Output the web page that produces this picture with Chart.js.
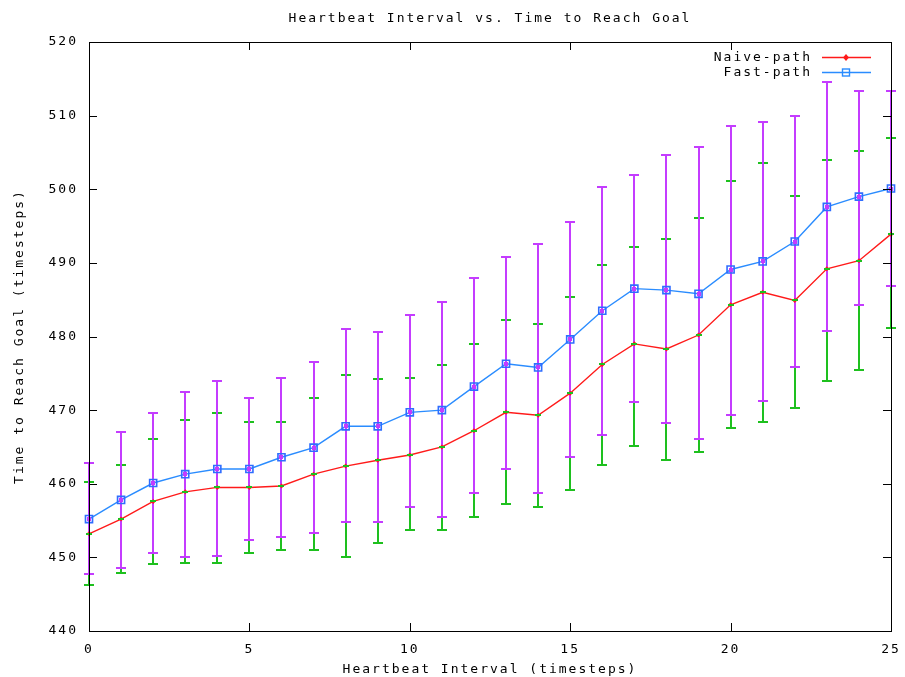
<!DOCTYPE html>
<html>
<head>
<meta charset="utf-8">
<script src="https://cdn.jsdelivr.net/npm/chart.js@4/dist/chart.umd.min.js"></script>
<style>
html, body { margin: 0; padding: 0; background: #fff; }
#wrap { width: 905px; height: 677px; }
</style>
</head>
<body>
<div id="wrap"><canvas id="chart" width="905" height="677"></canvas></div>
<script>
// heartbeat interval (x) and time to reach goal (y)
const xValues = [0,1,2,3,4,5,6,7,8,9,10,11,12,13,14,15,16,17,18,19,20,21,22,23,24,25];

const naiveMean = [453.2,455.2,457.6,458.9,459.5,459.5,459.7,461.3,462.4,463.2,463.9,465.0,467.2,469.7,469.3,472.3,476.2,479.0,478.3,480.2,484.3,486.0,484.9,489.2,490.3,493.9];
const naiveLow  = [446.2,447.9,449.1,449.3,449.3,450.6,451.0,451.0,450.0,452.0,453.7,453.7,455.5,457.2,456.8,459.2,462.6,465.1,463.2,464.3,467.6,468.4,470.3,474.0,475.4,481.2];
const naiveHigh = [460.2,462.6,466.1,468.6,469.6,468.4,468.4,471.7,474.8,474.2,474.4,476.1,479.0,482.3,481.7,485.4,489.7,492.1,493.2,496.1,501.1,503.6,499.1,504.0,505.2,506.9];

const fastMean = [455.2,457.8,460.1,461.3,462.0,462.0,463.6,464.9,467.8,467.8,469.7,470.0,473.2,476.3,475.8,479.6,483.5,486.5,486.3,485.8,489.1,490.2,492.9,497.6,499.0,500.1];
const fastLow  = [447.7,448.5,450.6,450.0,450.2,452.4,452.8,453.3,454.8,454.8,456.8,455.5,458.8,462.0,458.8,463.6,466.6,471.1,468.2,466.1,469.4,471.2,475.9,480.7,484.3,486.8];
const fastHigh = [462.8,467.0,469.6,472.5,474.0,471.7,474.4,476.5,481.0,480.6,482.9,484.7,487.9,490.8,492.5,495.6,500.3,502.0,504.7,505.7,508.6,509.1,509.9,514.6,513.4,513.4];

const xTicks = [0,5,10,15,20,25];
const yTicks = [440,450,460,470,480,490,500,510,520];

const titleText = "Heartbeat Interval vs. Time to Reach Goal";
const xTitle = "Heartbeat Interval (timesteps)";
const yTitle = "Time to Reach Goal (timesteps)";
const seriesNames = ["Naive-path", "Fast-path"];

const RED = "#ff1a1a";
const BLUE = "#2a8cff";
const GREEN = "#1ec01e";
const PURPLE = "#c43cff";
const FONT = "'DejaVu Sans Mono', 'Liberation Mono', monospace";
const SPACING = "2px";

function toPoints(ys){
  return xValues.map((x,i) => ({x: x, y: ys[i]}));
}

function drawBars(ctx, xs, ys, lo, hi, color, chart){
  const sx = chart.scales.x, sy = chart.scales.y;
  ctx.save();
  ctx.strokeStyle = color;
  ctx.lineWidth = 2;
  for(let i = 0; i < xs.length; i++){
    const px = Math.round(sx.getPixelForValue(xs[i]));
    const p1 = Math.round(sy.getPixelForValue(lo[i]));
    const p2 = Math.round(sy.getPixelForValue(hi[i]));
    ctx.beginPath();
    ctx.moveTo(px, p1); ctx.lineTo(px, p2);
    ctx.moveTo(px-5, p1); ctx.lineTo(px+5, p1);
    ctx.moveTo(px-5, p2); ctx.lineTo(px+5, p2);
    ctx.stroke();
  }
  ctx.restore();
}

const gnuplotLook = {
  id: 'gnuplotLook',
  beforeLayout(chart){ chart.ctx.letterSpacing = SPACING; },
  beforeDraw(chart){ chart.ctx.letterSpacing = SPACING; },
  beforeDatasetsDraw(chart){
    const ctx = chart.ctx;
    drawBars(ctx, xValues, naiveMean, naiveLow, naiveHigh, GREEN, chart);
    drawBars(ctx, xValues, fastMean, fastLow, fastHigh, PURPLE, chart);
  },
  afterDatasetsDraw(chart){
    const ctx = chart.ctx;
    const sx = chart.scales.x, sy = chart.scales.y;
    ctx.save();
    // small marks the error-bar series leave on their means
    for(let i = 0; i < xValues.length; i++){
      const px = Math.round(sx.getPixelForValue(xValues[i]));
      let py = Math.round(sy.getPixelForValue(naiveMean[i]));
      ctx.strokeStyle = GREEN; ctx.lineWidth = 2;
      ctx.beginPath();
      ctx.moveTo(px-3, py); ctx.lineTo(px+3, py);
      ctx.stroke();
      py = Math.round(sy.getPixelForValue(fastMean[i]));
      ctx.fillStyle = PURPLE;
      ctx.fillRect(px-2, py-2, 4, 4);
    }
    ctx.restore();
  },
  afterDraw(chart){
    const ctx = chart.ctx;
    const a = chart.chartArea;
    const sx = chart.scales.x, sy = chart.scales.y;
    ctx.save();
    ctx.letterSpacing = SPACING;
    // frame
    ctx.strokeStyle = "#000";
    ctx.lineWidth = 1;
    ctx.strokeRect(Math.round(a.left)+0.5, Math.round(a.top)+0.5, Math.round(a.right-a.left), Math.round(a.bottom-a.top));
    // inward ticks on all four sides
    ctx.beginPath();
    sy.ticks.forEach(t => {
      const py = Math.round(sy.getPixelForValue(t.value)) + 0.5;
      ctx.moveTo(a.left, py); ctx.lineTo(a.left+8, py);
      ctx.moveTo(a.right, py); ctx.lineTo(a.right-8, py);
    });
    sx.ticks.forEach(t => {
      const px = Math.round(sx.getPixelForValue(t.value)) + 0.5;
      ctx.moveTo(px, a.bottom); ctx.lineTo(px, a.bottom-8);
      ctx.moveTo(px, a.top); ctx.lineTo(px, a.top+8);
    });
    ctx.stroke();
    // title
    ctx.fillStyle = "#000";
    ctx.font = "13px " + FONT;
    ctx.textAlign = "center";
    ctx.textBaseline = "middle";
    ctx.fillText(titleText, (a.left+a.right)/2, 19);
    // key, gnuplot style: text then sample
    const rows = [
      {name: seriesNames[0], color: RED, y: 57},
      {name: seriesNames[1], color: BLUE, y: 72}
    ];
    rows.forEach((r, k) => {
      ctx.fillStyle = "#000";
      ctx.textAlign = "right";
      ctx.fillText(r.name, 812, r.y + 1);
      ctx.strokeStyle = r.color;
      ctx.lineWidth = 1.5;
      ctx.beginPath();
      ctx.moveTo(822, r.y+0.5); ctx.lineTo(871, r.y+0.5);
      ctx.stroke();
      if(k === 0){
        ctx.fillStyle = r.color;
        ctx.beginPath();
        ctx.moveTo(846, r.y-3); ctx.lineTo(849, r.y+0.5); ctx.lineTo(846, r.y+4); ctx.lineTo(843, r.y+0.5);
        ctx.fill();
      } else {
        ctx.lineWidth = 1.4;
        ctx.strokeRect(842.5, r.y-3, 7, 7);
      }
    });
    ctx.restore();
  }
};

const ctx = document.getElementById("chart").getContext("2d");

new Chart(ctx, {
  type: 'scatter',
  data: {
    datasets: [
      {
        label: seriesNames[0],
        data: toPoints(naiveMean),
        showLine: true,
        borderColor: RED,
        backgroundColor: RED,
        borderWidth: 1.4,
        pointStyle: 'rectRot',
        pointRadius: 2.5,
        pointBorderWidth: 0,
        clip: false
      },
      {
        label: seriesNames[1],
        data: toPoints(fastMean),
        showLine: true,
        borderColor: BLUE,
        backgroundColor: 'rgba(0,0,0,0)',
        borderWidth: 1.4,
        pointStyle: 'rect',
        pointRadius: 5,
        pointBorderColor: '#2f6dff',
        pointBorderWidth: 1.6,
        clip: false
      }
    ]
  },
  options: {
    responsive: false,
    animation: false,
    events: [],
    layout: { padding: { left: 0, right: 14, top: 42, bottom: 0 } },
    plugins: {
      legend: { display: false },
      title: { display: false },
      tooltip: { enabled: false }
    },
    scales: {
      x: {
        type: 'linear',
        min: 0, max: 25,
        afterBuildTicks(scale){ scale.ticks = xTicks.map(v => ({value: v})); },
        afterFit(scale){ scale.height = 46; scale.paddingLeft = 0; scale.paddingRight = 0; },
        grid: { display: false, drawTicks: false },
        border: { display: false },
        ticks: { color: '#000', font: { family: FONT, size: 13 }, padding: 11, maxRotation: 0 },
        title: { display: true, text: xTitle, color: '#000', font: { family: FONT, size: 13 }, padding: { top: 0, bottom: 0 } }
      },
      y: {
        type: 'linear',
        min: 440, max: 520,
        afterBuildTicks(scale){ scale.ticks = yTicks.map(v => ({value: v})); },
        afterFit(scale){ scale.width = 89; scale.paddingTop = 0; scale.paddingBottom = 0; },
        grid: { display: false, drawTicks: false },
        border: { display: false },
        ticks: { color: '#000', font: { family: FONT, size: 13 }, padding: 11 },
        title: { display: true, text: yTitle, color: '#000', font: { family: FONT, size: 13 }, padding: { top: 12, bottom: 0 } }
      }
    }
  },
  plugins: [gnuplotLook]
});
</script>
</body>
</html>
